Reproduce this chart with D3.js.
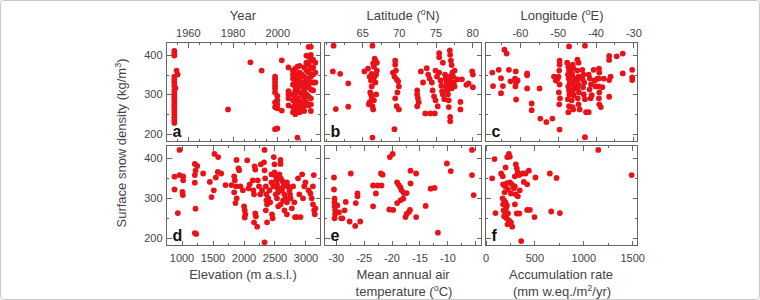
<!DOCTYPE html>
<meta charset="utf-8">
<script src="https://d3js.org/d3.v7.min.js"></script>
<style>
body { margin: 0; background: #fff; }
text { font-family: "Liberation Sans", Arial, sans-serif; }
</style>
<div id="chart"></div>
<script>

// ---- data: [x value, surface snow density (kg/m3)] ----
var yearPts = [
  [1954,410],[1954,404],[1954,398],[1955,360],[1955.5,350],[1954,345],[1954,337],[1954,330],[1954,322],[1954.5,316],
  [1954,310],[1954,302],[1954,296],[1954,290],[1954,283],[1954,276],[1954,270],[1954,263],[1954,256],[1954,249],
  [1954,242],[1954,235],[1954,228],
  [1978,262],[1988,381],[1993,360],[2002,386],[2002,259],
  [1999,345],[1999,338],[1999,330],[1999,322],[1999,315],[1999,305],[2000,296],[2000,285],[1999,280],[1999,268],
  [2000,265],[1999,212],[2000,214],[2000,275],
  [2005,368],[2005,308],[2005,300],[2005,290],[2005,272],
  [2007,360],[2007,350],[2007,340],[2007,325],[2007,300],[2007,285],[2007,268],[2007,255],
  [2008,365],[2008,352],[2008,335],[2008,320],[2008,308],[2008,295],[2008,278],[2008,262],[2008,250],
  [2009,370],[2009,345],[2009,330],[2009,315],[2009,290],[2009,270],[2009,191],
  [2010,372],[2010,355],[2010,338],[2010,325],[2010,305],[2010,283],[2010,265],[2010,255],
  [2011,350],[2011,320],[2011,298],[2011,275],
  [2012,368],[2012,345],[2012,330],[2012,310],[2012,288],[2012,270],[2012,258],
  [2013,398],[2013,380],[2013,360],[2013,340],[2013,322],[2013,300],[2013,280],
  [2014,420],[2014,395],[2014,375],[2014,355],[2014,335],[2014,318],[2014,295],[2014,272],
  [2015,420],[2015,400],[2015,385],[2015,365],[2015,345],[2015,330],[2015,312],[2015,290],[2015,275],[2015,258],
  [2016,388],[2016,368],[2016,350],[2016,330],[2016,310],
  [2017,380],[2017,355],[2017,330]
];

var latPts = [
  [61.1,423],[61.0,358],[62.0,352],[63.1,328],[61.4,263],[63.1,269],[66.4,423],[66.4,191],
  [65.3,358],[65.8,365],[66.0,345],[66.2,335],[66.3,320],[66.5,378],[66.6,370],[66.7,390],[66.8,385],[67.0,380],
  [67.0,360],[66.9,350],[66.5,340],[66.1,305],[66.3,290],[66.0,280],[66.4,270],[66.5,262],[66.2,300],[66.8,330],
  [66.7,345],[65.9,275],[66.6,285],[66.9,300],[66.3,352],
  [69.2,355],[69.5,385],[69.5,375],[69.6,360],[69.4,345],[69.7,338],[69.9,333],[70.0,320],[69.8,305],[69.5,290],
  [69.7,270],[70.0,262],[69.4,212],
  [72.5,310],[72.5,300],[72.6,290],[72.7,280],[72.5,270],[73.0,358],[73.8,366],[73.3,330],
  [74.0,350],[74.2,340],[74.5,330],[74.6,310],[74.8,295],[75.0,285],[75.3,270],[75.0,360],[75.2,345],[75.5,355],
  [75.7,335],[75.8,322],[75.9,308],[76.0,300],[76.2,288],[76.3,350],[76.4,340],[76.5,330],[76.5,318],[76.6,310],
  [76.7,300],[76.8,285],[76.9,345],[77.0,335],[77.1,325],[77.2,315],[77.3,355],[77.4,345],[77.5,330],[77.6,320],
  [77.6,360],[76.0,380],[75.5,404],[75.5,394],[76.95,411],[77.0,400],[77.1,385],[77.2,374],
  [73.6,252],[74.3,252],[74.9,252],[76.8,268],[77.0,243],[77.0,232],
  [78.4,281],[78.4,262],[78.0,338],[78.6,338],[79.2,324],[79.5,328],[80.0,358],[80.1,350],[80.1,318]
];

var lonPts = [
  [-64.1,413],[-63.5,403],[-67.3,355],[-67.1,321],[-65.6,362],[-65.0,341],[-64.5,321],[-65.0,303],[-62.9,362],
  [-62.5,333],[-61.1,358],[-61.3,340],[-61.0,330],[-60.6,335],[-61.2,320],[-58.1,353],[-58.1,348],[-58.1,315],
  [-61.0,287],[-56.9,277],[-56.9,260],[-54.8,315],[-54.6,239],[-53.0,230],[-51.4,239],[-49.5,211],[-47.0,421],
  [-42.8,423],[-42.8,192],
  [-49.5,385],[-49.5,375],[-49.6,360],[-49.8,345],[-49.5,325],[-49.7,305],[-49.4,290],[-49.6,275],[-51.0,345],
  [-50.5,335],[-50.0,340],
  [-47.5,380],[-47.2,370],[-47.0,360],[-47.3,350],[-47.1,340],[-46.8,330],[-47.2,320],[-47.0,310],[-46.9,300],
  [-47.3,288],[-47.0,270],[-47.2,255],
  [-46.0,375],[-45.8,365],[-46.2,352],[-45.9,342],[-46.1,330],[-45.7,320],[-46.0,310],[-45.8,298],[-46.3,285],
  [-45.9,262],[-46.1,268],
  [-44.8,388],[-44.5,380],[-44.8,360],[-44.5,345],[-44.9,335],[-44.6,325],[-44.8,315],[-44.4,305],[-44.7,290],
  [-44.5,275],[-44.2,262],
  [-43.5,362],[-43.2,350],[-43.4,338],[-43.0,330],[-43.3,318],[-43.1,300],[-42.8,288],[-42.5,255],[-41.8,255],
  [-41.8,350],[-41.5,340],[-41.2,325],[-41.6,312],[-41.0,298],[-41.3,290],[-40.5,362],[-40.2,335],[-40.0,320],
  [-39.5,340],[-39.1,365],[-39.0,355],[-39.1,340],[-39.2,320],[-39.0,305],[-39.1,290],[-39.0,275],[-38.6,268],
  [-38.2,318],[-37.8,340],
  [-36.4,397],[-36.4,387],[-34.4,396],[-32.8,403],[-32.8,353],[-30.3,362],[-30.3,343],[-30.3,336],[-36.4,336],
  [-36.0,345],[-36.4,294]
];

var elevPts = [
  [968,421],[887,354],[887,322],[941,263],[968,358],[1027,355],[1027,345],[1016,316],[1022,308],
  [1215,386],[1253,381],[1226,369],[1215,358],[1215,339],[1226,274],[1215,213],[1237,211],
  [1349,362],[1457,341],[1484,303],[1521,320],[1532,411],[1591,403],[1554,352],[1586,366],[1640,362],
  [1710,333],[1806,333],[1887,396],[1850,355],[1860,345],[1880,330],[1850,315],[1890,300],[1870,288],[1920,375],
  [1930,370],[1950,330],[1990,320],[2010,280],[2020,270],[2030,260],[2020,252],[2060,395],[2080,325],[2100,335],
  [2150,345],[2160,320],[2170,310],[2180,380],[2190,372],[2190,262],[2200,255],[2170,240],[2220,229],[2230,345],
  [2250,330],[2280,385],[2270,310],[2300,320],[2339,421],[2339,190],[2330,390],[2340,370],[2350,350],[2360,330],
  [2370,310],[2370,295],[2380,285],[2360,270],[2380,240],[2400,300],[2420,320],[2450,340],[2460,260],[2470,250],
  [2480,330],[2489,403],[2500,365],[2520,355],[2530,345],[2540,335],[2550,325],[2560,315],[2520,310],[2540,300],
  [2597,396],[2597,386],[2580,360],[2600,350],[2620,345],[2640,340],[2650,330],[2600,325],[2620,320],[2660,310],
  [2680,300],[2640,295],[2600,285],[2700,290],[2700,340],[2720,330],[2740,320],[2750,310],[2760,300],[2780,275],
  [2800,330],[2820,290],[2830,253],[2860,253],[2880,350],[2900,310],[2920,253],[2946,360],[2960,300],[2980,330],
  [3000,340],[3050,320],[3080,312],[3100,300],[3120,285],[3134,358],[3140,270],[3150,260],[3160,275],[3120,330],
  [2500,385],[2450,360],[2430,290],[2560,280],[2660,270],[2700,260]
];

var tempPts = [
  [-30.3,352],[-30.3,322],[-30.2,299],[-30.2,290],[-30.2,280],[-30.1,270],[-30.1,260],[-30.2,250],
  [-29.7,282],[-29.4,265],[-29.0,250],[-28.8,250],[-28.2,291],[-28.4,270],[-27.3,362],[-27.5,242],
  [-26.4,288],[-26.1,312],[-26.1,305],[-26.5,231],[-25.6,242],
  [-23.3,332],[-22.5,332],[-21.8,332],[-23.3,280],[-22.8,312],[-21.9,362],[-21.6,359],[-20.3,403],[-19.8,411],
  [-20.4,272],[-19.7,271],[-19.0,340],[-18.7,333],[-18.4,327],[-18.2,320],[-19.0,288],[-18.4,295],
  [-17.9,299],[-17.8,313],[-17.3,313],[-17.3,261],[-16.9,266],[-16.7,271],[-17.5,253],[-16.6,369],[-16.6,337],
  [-15.6,362],[-15.6,253],[-13.9,281],[-13.0,324],[-12.3,326],[-11.7,214],[-10.1,387],[-9.4,368],
  [-5.6,421],[-5.6,358],[-5.3,308]
];

var accPts = [
  [92,398],[68,350],[102,263],[239,411],[249,404],[222,403],[205,377],[160,362],[177,355],
  [180,335],[200,330],[220,338],[250,340],[270,335],[300,330],[290,325],[230,322],[195,315],[260,312],
  [310,310],[175,300],[190,295],[205,290],[180,285],[220,282],[210,275],[185,270],[200,265],[230,262],
  [190,255],[215,250],[240,245],[260,240],[225,235],[320,262],[300,285],[330,305],[350,320],[345,262],
  [273,229],[365,193],[310,385],[320,375],[330,365],[345,358],[300,355],[380,362],
  [409,362],[443,369],[392,341],[426,335],[511,352],[501,253],[426,271],[453,271],[658,362],[726,351],
  [672,267],[760,263],[1153,421],[1494,358]
];

// tick values
var yearTicks = [1960, 1980, 2000];
var latTicks = [65, 70, 75, 80];
var lonTicks = [-60, -50, -40, -30];
var elevTicks = [1000, 1500, 2000, 2500, 3000];
var tempTicks = [-30, -25, -20, -15, -10, -5];
var tempLabels = [-30, -25, -20, -15, -10];
var accTicks = [0, 500, 1000, 1500];
var densTicks = [200, 300, 400];

var W = 760, H = 300;
var frameColor = "#666", dotColor = "#ea1218", labelColor = "#444";

var svg = d3.select("#chart").append("svg")
  .attr("width", W)
  .attr("height", H);

// outer border of the figure
svg.append("rect")
  .attr("x", 0.5).attr("y", 0.5)
  .attr("width", W - 1).attr("height", H - 1)
  .attr("rx", 3)
  .attr("fill", "none")
  .attr("stroke", "#c8c8c8");

var rows = [[42.5, 141.5], [145.5, 245.5]];
var cols = [[166.5, 320.5], [324.5, 481.5], [485.5, 637.5]];
var yDomains = [[181, 431], [182, 432]];

var panels = [
  {pts: yearPts, col: 0, row: 0, dom: [1950.5, 2019.3], ticks: yearTicks, step: 5,   letter: "a"},
  {pts: latPts,  col: 1, row: 0, dom: [59.86, 81.27],   ticks: latTicks,  step: 2.5, letter: "b"},
  {pts: lonPts,  col: 2, row: 0, dom: [-69.1, -28.9],   ticks: lonTicks,  step: 5,   letter: "c"},
  {pts: elevPts, col: 0, row: 1, dom: [758, 3242],      ticks: elevTicks, step: 250, letter: "d"},
  {pts: tempPts, col: 1, row: 1, dom: [-32, -3.9],      ticks: tempTicks, step: 2.5, letter: "e", labels: tempLabels},
  {pts: accPts,  col: 2, row: 1, dom: [0, 1554],        ticks: accTicks,  step: 250, letter: "f"}
];

function styleAxis(g) {
  g.select(".domain").remove();
  g.selectAll("line").attr("stroke", frameColor).attr("shape-rendering", "crispEdges");
  g.selectAll("text")
    .attr("fill", labelColor)
    .style("font-size", "11px")
    .style("font-family", "'Liberation Sans', Arial, sans-serif");
}

panels.forEach(function(p) {
  var x0 = cols[p.col][0], x1 = cols[p.col][1];
  var top = rows[p.row][0], bot = rows[p.row][1];
  var x = d3.scaleLinear().domain(p.dom).range([x0, x1]);
  var y = d3.scaleLinear().domain(yDomains[p.row]).range([bot, top]);

  var minorX = d3.range(Math.ceil(p.dom[0] / p.step) * p.step, p.dom[1], p.step)
    .filter(function(v) { return p.ticks.indexOf(v) < 0; });
  var minorY = [250, 350];
  var labelSet = p.labels || p.ticks;
  var fmt = function(d) { return labelSet.indexOf(d) >= 0 ? d : ""; };

  // dots
  svg.append("g")
    .selectAll("circle")
    .data(p.pts)
    .enter()
    .append("circle")
      .attr("cx", function(d) { return x(d[0]); })
      .attr("cy", function(d) { return y(d[1]); })
      .attr("r", 2.9)
      .attr("fill", dotColor);

  // top edge
  svg.append("g")
    .attr("transform", "translate(0," + top + ")")
    .call(d3.axisTop(x).tickValues(p.ticks).tickSize(-5).tickPadding(6)
      .tickFormat(p.row === 0 ? fmt : ""))
    .call(styleAxis);
  svg.append("g")
    .attr("transform", "translate(0," + top + ")")
    .call(d3.axisTop(x).tickValues(minorX).tickSize(-2.5).tickFormat(""))
    .call(styleAxis);

  // bottom edge
  svg.append("g")
    .attr("transform", "translate(0," + bot + ")")
    .call(d3.axisBottom(x).tickValues(p.ticks).tickSize(-5).tickPadding(9)
      .tickFormat(p.row === 1 ? fmt : ""))
    .call(styleAxis);
  svg.append("g")
    .attr("transform", "translate(0," + bot + ")")
    .call(d3.axisBottom(x).tickValues(minorX).tickSize(-2.5).tickFormat(""))
    .call(styleAxis);

  // left edge
  svg.append("g")
    .attr("transform", "translate(" + x0 + ",0)")
    .call(d3.axisLeft(y).tickValues(densTicks).tickSize(-5).tickPadding(4)
      .tickFormat(p.col === 0 ? d3.format("d") : ""))
    .call(styleAxis);
  svg.append("g")
    .attr("transform", "translate(" + x0 + ",0)")
    .call(d3.axisLeft(y).tickValues(minorY).tickSize(-2.5).tickFormat(""))
    .call(styleAxis);

  // right edge
  svg.append("g")
    .attr("transform", "translate(" + x1 + ",0)")
    .call(d3.axisRight(y).tickValues(densTicks).tickSize(-5).tickFormat(""))
    .call(styleAxis);
  svg.append("g")
    .attr("transform", "translate(" + x1 + ",0)")
    .call(d3.axisRight(y).tickValues(minorY).tickSize(-2.5).tickFormat(""))
    .call(styleAxis);

  // frame
  svg.append("rect")
    .attr("x", x0).attr("y", top)
    .attr("width", x1 - x0).attr("height", bot - top)
    .attr("fill", "none")
    .attr("stroke", frameColor)
    .attr("shape-rendering", "crispEdges");

  // panel letter
  svg.append("text")
    .attr("x", x0 + 6)
    .attr("y", bot - 5)
    .text(p.letter)
    .style("font-size", "16px")
    .style("font-weight", "bold")
    .attr("fill", "#111");
});

// axis titles; parts flagged 1 are superscripts
function title(x, y, parts, rotate) {
  var t = svg.append("text")
    .attr("text-anchor", "middle")
    .attr("fill", labelColor)
    .style("font-size", "13px");
  if (rotate) {
    t.attr("transform", "translate(" + x + "," + y + ") rotate(-90)");
  } else {
    t.attr("x", x).attr("y", y);
  }
  parts.forEach(function(s) {
    var sp = t.append("tspan").text(s[0]);
    if (s[1]) sp.attr("dy", -5).style("font-size", "9px");
    else if (s[2]) sp.attr("dy", 5);
  });
}

title(243, 20, [["Year"]]);
title(403, 20, [["Latitude ("], ["o", 1], ["N)", 0, 1]]);
title(562, 20, [["Longitude ("], ["o", 1], ["E)", 0, 1]]);
title(243, 279, [["Elevation (m a.s.l.)"]]);
title(403, 279, [["Mean annual air"]]);
title(404, 296, [["temperature ("], ["o", 1], ["C)", 0, 1]]);
title(561, 279, [["Accumulation rate"]]);
title(562, 296, [["(mm w.eq./m"], ["2", 1], ["/yr)", 0, 1]]);
title(126, 143, [["Surface snow density (kg/m"], ["3", 1], [")", 0, 1]], true);

</script>
